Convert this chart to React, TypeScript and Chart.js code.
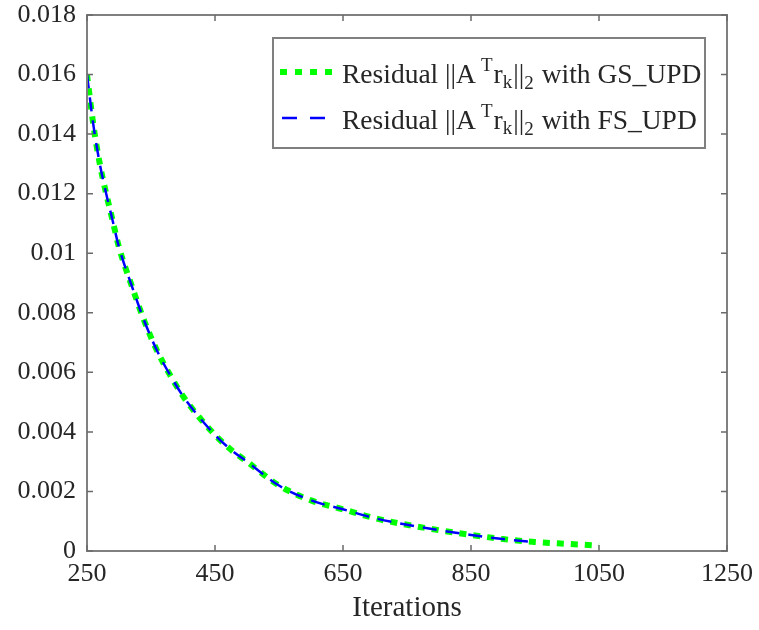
import React, { useEffect, useRef } from "react";
import { Chart, registerables } from "chart.js";

Chart.register(...registerables);

// ---- data ----
const gsIterations = [250, 260, 270, 280, 290, 300, 320, 340, 360, 380, 400, 425, 450, 475, 500, 550, 600, 650, 700, 750, 800, 850, 900, 950, 1000, 1050];
const gsResidual = [0.016, 0.0143, 0.013, 0.012, 0.0111, 0.0102, 0.0089, 0.0077, 0.0067, 0.0059, 0.0052, 0.0045, 0.0039, 0.0034, 0.003, 0.0022, 0.0017, 0.0014, 0.0011, 0.00088, 0.0007, 0.00054, 0.0004, 0.0003, 0.00024, 0.00018];
const fsIterations = [250, 260, 270, 280, 290, 300, 320, 340, 360, 380, 400, 425, 450, 475, 500, 550, 600, 650, 700, 750, 800, 850, 900, 945];
const fsResidual = [0.016, 0.0143, 0.013, 0.012, 0.0111, 0.0102, 0.0089, 0.0077, 0.0067, 0.0059, 0.0052, 0.0045, 0.0039, 0.0034, 0.003, 0.0022, 0.0017, 0.0014, 0.0011, 0.00088, 0.0007, 0.00054, 0.0004, 0.00031];
const xTickValues = [250, 450, 650, 850, 1050, 1250];
const yTickValues = [0, 0.002, 0.004, 0.006, 0.008, 0.01, 0.012, 0.014, 0.016, 0.018];
const xAxisTitle = "Iterations";
const methodNames = ["GS_UPD", "FS_UPD"];

const FONT = '"Liberation Serif", "Times New Roman", serif';
const TEXT = "#262626";
const AXIS = "#808080";

const framePlugin = {
  id: "frame",
  afterDatasetsDraw(chart: any) {
    const { ctx, chartArea: a, scales } = chart;
    ctx.save();
    ctx.strokeStyle = AXIS;
    ctx.lineWidth = 2;
    ctx.strokeRect(a.left, a.top, a.right - a.left, a.bottom - a.top);
    ctx.strokeStyle = "#6a6a6a";
    ctx.lineWidth = 1.5;
    ctx.beginPath();
    const tl = 6;
    scales.x.ticks.forEach((t: any) => {
      const px = scales.x.getPixelForValue(t.value);
      ctx.moveTo(px, a.bottom);
      ctx.lineTo(px, a.bottom - tl);
      ctx.moveTo(px, a.top);
      ctx.lineTo(px, a.top + tl);
    });
    scales.y.ticks.forEach((t: any) => {
      const py = scales.y.getPixelForValue(t.value);
      ctx.moveTo(a.left, py);
      ctx.lineTo(a.left + tl, py);
      ctx.moveTo(a.right, py);
      ctx.lineTo(a.right - tl, py);
    });
    ctx.stroke();
    ctx.restore();
  },
};

function drawTexLabel(ctx: CanvasRenderingContext2D, x: number, baseline: number, name: string) {
  const main = `27.5px ${FONT}`;
  const small = `19px ${FONT}`;
  const parts: { t: string; f: string; dy: number; gapBefore?: number }[] = [
    { t: "Residual ||A", f: main, dy: 0 },
    { t: "T", f: small, dy: -12, gapBefore: 5 },
    { t: "r", f: main, dy: 0, gapBefore: 1 },
    { t: "k", f: small, dy: 5 },
    { t: "||", f: main, dy: 0, gapBefore: 1 },
    { t: "2", f: small, dy: 6 },
    { t: " with " + name, f: main, dy: 0, gapBefore: 1 },
  ];
  let cx = x;
  ctx.fillStyle = TEXT;
  ctx.textBaseline = "alphabetic";
  ctx.textAlign = "left";
  for (const p of parts) {
    cx += p.gapBefore || 0;
    ctx.font = p.f;
    ctx.fillText(p.t, cx, baseline + p.dy);
    cx += ctx.measureText(p.t).width;
  }
}

const legendPlugin = {
  id: "texLegend",
  afterDraw(chart: any) {
    const { ctx, chartArea: a } = chart;
    const boxW = 432;
    const boxH = 110;
    const x0 = a.right - 22 - boxW;
    const y0 = a.top + 23;
    ctx.save();
    ctx.fillStyle = "#ffffff";
    ctx.fillRect(x0, y0, boxW, boxH);
    ctx.strokeStyle = AXIS;
    ctx.lineWidth = 2;
    ctx.strokeRect(x0, y0, boxW, boxH);
    const legendOrder = [1, 0];
    legendOrder.forEach((di, row) => {
      const ds = chart.data.datasets[di];
      const cy = y0 + 34 + row * 46;
      ctx.save();
      ctx.strokeStyle = ds.borderColor;
      ctx.lineWidth = ds.borderWidth;
      ctx.lineCap = "butt";
      ctx.setLineDash(row === 0 ? [7, 8] : [15, 13]);
      ctx.beginPath();
      ctx.moveTo(x0 + (row === 0 ? 7 : 9), cy);
      ctx.lineTo(x0 + (row === 0 ? 59 : 55), cy);
      ctx.stroke();
      ctx.restore();
      drawTexLabel(ctx, x0 + 69, cy + 11, methodNames[row]);
    });
    ctx.restore();
  },
};

export default function App() {
  const ref = useRef<HTMLCanvasElement>(null);
  useEffect(() => {
    if (!ref.current) return;
    const chart = new Chart(ref.current, {
      type: "line",
      data: {
        datasets: [
          {
            label: "FS_UPD",
            data: fsIterations.map((x, i) => ({ x, y: fsResidual[i] })),
            borderColor: "#0000ff",
            borderWidth: 2.5,
            borderDash: [14, 9],
            pointRadius: 0,
            fill: false,
            cubicInterpolationMode: "monotone",
            order: 0,
          },
          {
            label: "GS_UPD",
            data: gsIterations.map((x, i) => ({ x, y: gsResidual[i] })),
            borderColor: "#00ff00",
            borderWidth: 6,
            borderDash: [7, 7],
            borderCapStyle: "butt",
            pointRadius: 0,
            fill: false,
            cubicInterpolationMode: "monotone",
            order: 1,
          },
        ],
      },
      options: {
        animation: false,
        responsive: false,
        devicePixelRatio: 1,
        layout: { padding: { top: 15, right: 32, left: 0, bottom: 0 } },
        plugins: { legend: { display: false }, tooltip: { enabled: false } },
        scales: {
          x: {
            type: "linear",
            min: 250,
            max: 1250,
            afterBuildTicks: (s: any) => {
              s.ticks = xTickValues.map((v) => ({ value: v }));
            },
            afterFit: (s: any) => {
              s.height = 79;
              s.paddingLeft = 0;
              s.paddingRight = 0;
            },
            grid: { display: false, drawTicks: false },
            border: { display: false },
            ticks: {
              color: TEXT,
              font: { family: FONT, size: 26 },
              padding: 8,
              maxRotation: 0,
              autoSkip: false,
              callback: (v: any) => String(v),
            },
            title: {
              display: true,
              text: xAxisTitle,
              color: TEXT,
              font: { family: FONT, size: 29 },
              padding: { top: 0, bottom: 4 },
            },
          },
          y: {
            type: "linear",
            min: 0,
            max: 0.018,
            afterBuildTicks: (s: any) => {
              s.ticks = yTickValues.map((v) => ({ value: v }));
            },
            afterFit: (s: any) => {
              s.width = 87;
              s.paddingTop = 0;
              s.paddingBottom = 0;
            },
            grid: { display: false, drawTicks: false },
            border: { display: false },
            ticks: {
              color: TEXT,
              font: { family: FONT, size: 26 },
              padding: 11,
              autoSkip: false,
              callback: (v: any) => String(parseFloat(Number(v).toFixed(3))),
            },
          },
        },
      } as any,
      plugins: [framePlugin, legendPlugin],
    });
    return () => chart.destroy();
  }, []);
  return (
    <div style={{ position: "absolute", left: 0, top: 0, width: 759, height: 630, background: "#ffffff" }}>
      <canvas ref={ref} width={759} height={630} style={{ display: "block" }} />
    </div>
  );
}
